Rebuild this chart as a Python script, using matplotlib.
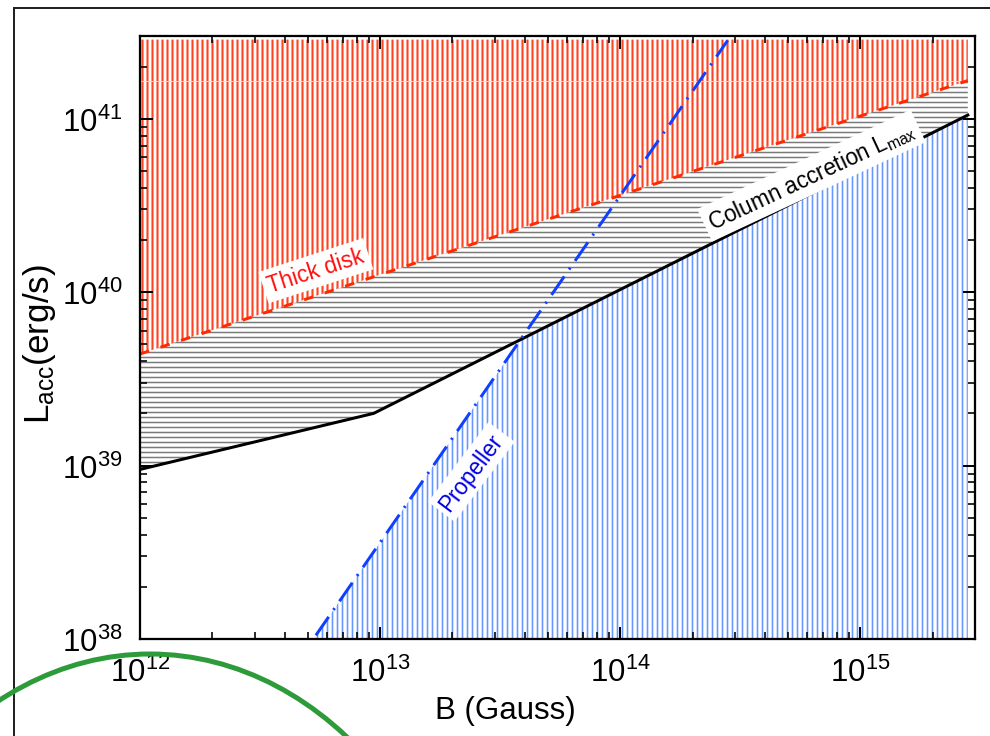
import numpy as np
import matplotlib
matplotlib.use('Agg')
import matplotlib.pyplot as plt
from matplotlib.patches import Ellipse
from matplotlib.lines import Line2D
from matplotlib.ticker import LogLocator, NullFormatter

plt.rcParams['font.family'] = ['Liberation Sans', 'DejaVu Sans']
plt.rcParams['mathtext.fontset'] = 'custom'
plt.rcParams['mathtext.rm'] = 'Liberation Sans'
plt.rcParams['mathtext.it'] = 'Liberation Sans:italic'
plt.rcParams['mathtext.bf'] = 'Liberation Sans:bold'
plt.rcParams['mathtext.default'] = 'regular'

# ---------------- data ----------------
B_lmax = [1.0e12, 9.4e12, 2.8e15]          # column accretion L_max (broken line)
L_lmax = [9.5e38, 2.0e39, 1.05e41]
B_thick = [1.0e12, 2.8e15]                 # thick disk boundary
L_thick = [4.4e39, 1.66e41]
B_prop = [5.4e12, 2.8e14]                  # propeller line
L_prop = [1.05e38, 2.83e41]
L_top = 2.86e41                            # upper end of the thick-disk hatching
L_faint = 1.66e41                          # faint horizontal line
B_range = [1.0e12, 3.0e15]
L_range = [1.0e38, 3.0e41]

label_thick = 'Thick disk'
label_col = r'Column accretion L$_{\mathregular{max}}$'
label_prop = 'Propeller'
B_thick_txt, L_thick_txt = 5.4e12, 1.33e40
B_col_txt, L_col_txt = 6.25e14, 4.7e40
B_prop_txt, L_prop_txt = 2.4e13, 9.2e38


def loglog_interp(B, xs, ys):
    return 10 ** np.interp(np.log10(B), np.log10(xs), np.log10(ys))


def loglog_line(B, xs, ys):
    lx, ly = np.log10(xs), np.log10(ys)
    s = (ly[1] - ly[0]) / (lx[1] - lx[0])
    return 10 ** (ly[0] + s * (np.log10(B) - lx[0]))


W, H, DPI = 990, 737, 90
fig = plt.figure(figsize=(W / DPI, H / DPI), dpi=DPI)
ax = fig.add_axes([140 / W, (H - 640) / H, 835 / W, 603 / H])
ax.set_xscale('log')
ax.set_yscale('log')
ax.set_xlim(*B_range)
ax.set_ylim(*L_range)

Bg = np.logspace(np.log10(B_lmax[0]), np.log10(B_lmax[-1]), 600)
lmax_g = loglog_interp(Bg, B_lmax, L_lmax)
thick_g = loglog_line(Bg, B_thick, L_thick)

# red hatched region (thick disk)
plt.rcParams['hatch.linewidth'] = 1.7
ax.fill_between(Bg, thick_g, L_top, facecolor='none', edgecolor='#ff4422',
                linewidth=0, hatch='|||', zorder=1)
# gray hatched region between L_max and thick disk
plt.rcParams['hatch.linewidth'] = 1.2
ax.fill_between(Bg, lmax_g, thick_g, facecolor='none', edgecolor='#7a7a7a',
                linewidth=0, hatch='---', zorder=1)
# blue hatched region (column accretion)
Bb = np.logspace(np.log10(B_prop[0]), np.log10(B_lmax[-1]), 600)
upper_b = np.minimum(loglog_line(Bb, B_prop, L_prop), loglog_interp(Bb, B_lmax, L_lmax))
plt.rcParams['hatch.linewidth'] = 1.3
ax.fill_between(Bb, L_range[0], upper_b, facecolor='none', edgecolor='#6698ff',
                linewidth=0, hatch='|||', zorder=1)

ax.hlines(L_faint, B_lmax[0], B_lmax[-1], color='#e4e4e4', lw=0.7, zorder=1.5)

# lines
ax.plot(B_lmax, L_lmax, color='black', lw=2.4, zorder=4)
ax.plot(B_thick, L_thick, color='#ff2a00', lw=2.4, dashes=(3.2, 4.0), zorder=4)
ax.plot(B_prop, L_prop, color='#1040ff', lw=2.4, dashes=(7.5, 2.8, 0.7, 2.8), zorder=4)

# labels on the plot
box = dict(facecolor='white', edgecolor='none', pad=4)
ax.text(B_thick_txt, L_thick_txt, label_thick, color='#ff1010', fontsize=18,
        rotation=18, rotation_mode='anchor', ha='center', va='center', bbox=box, zorder=5)
ax.text(B_col_txt, L_col_txt, label_col, color='black', fontsize=18,
        rotation=25, rotation_mode='anchor', ha='center', va='center', bbox=box, zorder=5)
ax.text(B_prop_txt, L_prop_txt, label_prop, color='#0000dd', fontsize=18,
        rotation=53, rotation_mode='anchor', ha='center', va='center', bbox=box, zorder=5)

# axes styling
for sp in ax.spines.values():
    sp.set_linewidth(1.8)
    sp.set_zorder(6)
ax.xaxis.set_major_locator(LogLocator(base=10, numticks=20))
ax.yaxis.set_major_locator(LogLocator(base=10, numticks=20))
ax.xaxis.set_minor_locator(LogLocator(base=10, subs=np.arange(2, 10), numticks=20))
ax.yaxis.set_minor_locator(LogLocator(base=10, subs=np.arange(2, 10), numticks=20))
ax.xaxis.set_minor_formatter(NullFormatter())
ax.yaxis.set_minor_formatter(NullFormatter())
ax.tick_params(which='both', direction='in', top=True, right=True, labelsize=25)
ax.tick_params(which='major', length=10, width=1.6)
ax.tick_params(which='minor', length=5.5, width=1.3)
ax.tick_params(axis='x', which='major', pad=14)
ax.tick_params(axis='y', which='major', pad=14)

ax.set_xlabel('B (Gauss)', fontsize=25)
ax.xaxis.label.set_va('center')
ax.xaxis.set_label_coords((505 - 140) / 835, -0.117)
ax.set_ylabel(r'L$_{\mathregular{acc}}$(erg/s)', fontsize=28)
ax.yaxis.label.set_va('center')
ax.yaxis.set_label_coords((39 - 140) / 835, 0.49)

# frame of the picture
fig.add_artist(Line2D([14 / W, 1.0], [1 - 9 / H, 1 - 9 / H], transform=fig.transFigure,
                      color='#222222', lw=1.6))
fig.add_artist(Line2D([14 / W, 14 / W], [0.0, 1 - 9 / H], transform=fig.transFigure,
                      color='#222222', lw=1.6))
# green arc
fig.add_artist(Ellipse((150 / W, (H - 655 - 420) / H), 660 / W, 840 / H,
                       transform=fig.transFigure, fill=False, edgecolor='#2e9b3b',
                       lw=4.0, zorder=10))

fig.savefig('out.png', dpi=DPI)
